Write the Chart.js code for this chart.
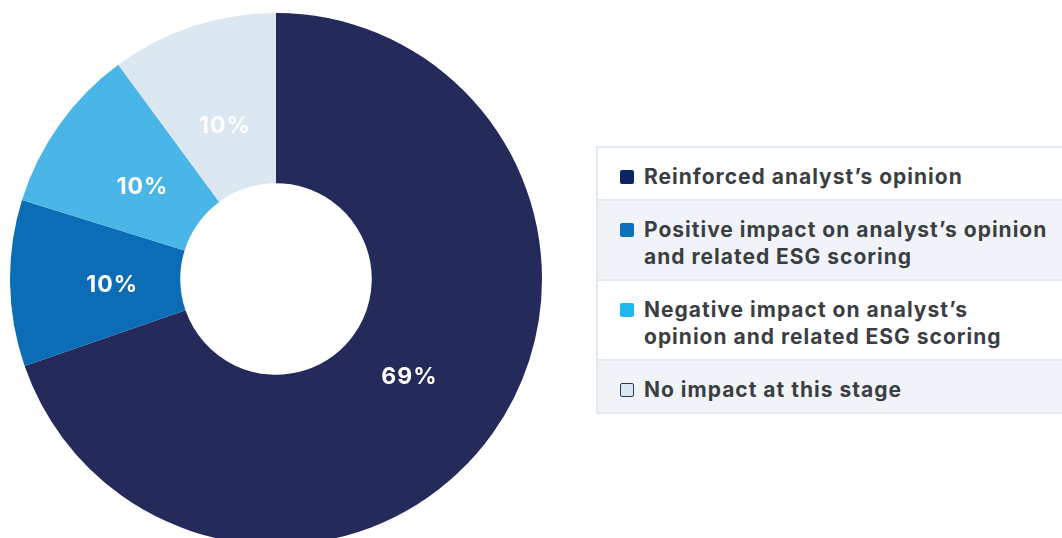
<!DOCTYPE html>
<html>
<head>
<meta charset="utf-8">
<script src="https://cdn.jsdelivr.net/npm/chart.js@4.4.1/dist/chart.umd.min.js"></script>
<style>
  html, body { margin: 0; padding: 0; background: #fff; overflow: hidden; }
  body { width: 1062px; height: 538px; position: relative; font-family: "Inter", sans-serif; }
  #chartWrap { position: absolute; left: 10px; top: 13px; width: 532px; height: 532px; }
  #legend {
    position: absolute; left: 596px; top: 146px; width: 480px;
    border: 2px solid #e2eaf2; border-right: none; box-sizing: border-box;
  }
  .row {
    display: flex; align-items: flex-start; padding: 15px 0 9px 22px;
    border-top: 2px solid #e2eaf2; color: #3b3f43;
    font-weight: 700; font-size: 21px; line-height: 27px; letter-spacing: 1px;
    white-space: nowrap;
  }
  .row:first-child { border-top: none; }
  .row:nth-child(even) { background: #f0f4f9; }
  .sw { width: 14px; height: 14px; border-radius: 2px; margin: 7px 10px 0 0; flex: none; box-sizing: border-box; }
</style>
</head>
<body>
<div id="chartWrap"><canvas id="pie"></canvas></div>
<div id="legend"></div>
<script>
const labels = [
  "Reinforced analyst’s opinion",
  "Positive impact on analyst’s opinion<br>and related ESG scoring",
  "Negative impact on analyst’s<br>opinion and related ESG scoring",
  "No impact at this stage"
];
const values = [69, 10, 10, 10];
const sliceColors = ["#242a5a", "#0b6db5", "#4ab5e7", "#dce8f1"];
const swatchColors = ["#0c2461", "#0a72bd", "#20b7ef", "#dce8f1"];

// legend table on the right
const legend = document.getElementById("legend");
labels.forEach((txt, i) => {
  const border = i === 3 ? "border:1.5px solid #2c3566;" : "";
  legend.innerHTML += `<div class="row"><span class="sw" style="background:${swatchColors[i]};${border}"></span><span>${txt}</span></div>`;
});

// percentage text inside each slice
const sliceLabels = {
  id: "sliceLabels",
  afterDatasetsDraw(chart) {
    const ctx = chart.ctx;
    ctx.save();
    ctx.font = "700 23px Inter";
    ctx.letterSpacing = "1px";
    ctx.fillStyle = "#fff";
    ctx.textAlign = "center";
    ctx.textBaseline = "middle";
    chart.getDatasetMeta(0).data.forEach((arc, i) => {
      const p = arc.getProps(["x", "y", "startAngle", "endAngle", "innerRadius", "outerRadius"]);
      const a = (p.startAngle + p.endAngle) / 2;
      const r = p.innerRadius + (p.outerRadius - p.innerRadius) * 0.4;
      ctx.fillText(values[i] + "%", p.x + Math.cos(a) * r, p.y + Math.sin(a) * r + 3);
    });
    ctx.restore();
  }
};

new Chart(document.getElementById("pie"), {
  type: "doughnut",
  data: {
    labels: labels,
    datasets: [{
      data: values,
      backgroundColor: sliceColors,
      borderWidth: 0
    }]
  },
  options: {
    responsive: true,
    maintainAspectRatio: false,
    animation: false,
    cutout: "36%",
    plugins: { legend: { display: false }, tooltip: { enabled: false } }
  },
  plugins: [sliceLabels]
});
</script>
</body>
</html>
